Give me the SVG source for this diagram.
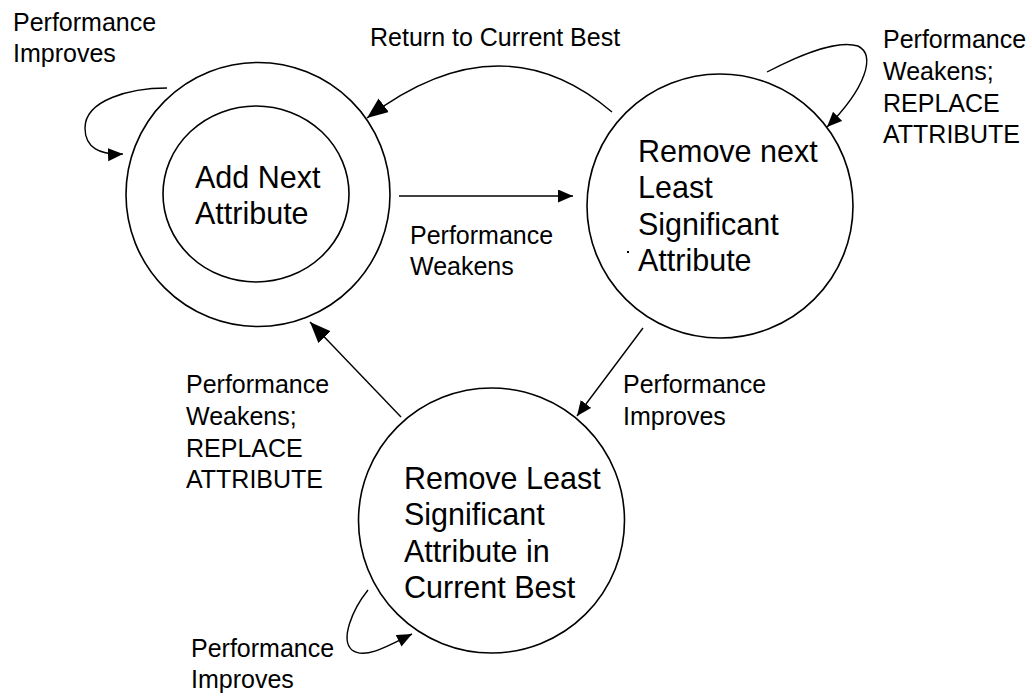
<svg xmlns="http://www.w3.org/2000/svg" width="1032" height="696" viewBox="0 0 1032 696">
<style>
.node{fill:none;stroke:#000;stroke-width:1.6}
.nt{font-family:"Liberation Sans",Arial,sans-serif;font-size:30.5px;fill:#000}
.lbl{font-family:"Liberation Sans",Arial,sans-serif;font-size:25px;fill:#000}
.edge{fill:none;stroke:#000;stroke-width:1.4}
</style>
<defs>
<marker id="ah" markerUnits="userSpaceOnUse" markerWidth="16" markerHeight="14" refX="15" refY="6.5" orient="auto">
<path d="M0,0 L15,6.5 L0,13 z" fill="#000"/>
</marker>
<marker id="ahL" markerUnits="userSpaceOnUse" markerWidth="22" markerHeight="18" refX="21" refY="8.5" orient="auto">
<path d="M0,0 L21,8.5 L0,17 z" fill="#000"/>
</marker>
</defs>
<rect width="1032" height="696" fill="#fff"/>
<g id="connectors">
<path class="edge" d="M167,88 C130,88 85,100 85,128 C85,148 100,155 123,154" marker-end="url(#ah)"/>
<path class="edge" d="M612,112 Q500,17 367,118" marker-end="url(#ahL)"/>
<path class="edge" d="M399,196 L573,196" marker-end="url(#ah)"/>
<path class="edge" d="M767,72 C805,52 840,40 858,46 C876,55 866,88 827,127" marker-end="url(#ah)"/>
<path class="edge" d="M643,328 L577,416" marker-end="url(#ah)"/>
<path class="edge" d="M401,417 L310,322" marker-end="url(#ahL)"/>
<path class="edge" d="M368,590 C352,610 340,640 352,650 C365,660 390,645 412,634" marker-end="url(#ah)"/>
</g>
<g id="labels">
<text class="lbl" x="13" y="31">Performance</text>
<text class="lbl" x="13" y="62">Improves</text>
<text class="lbl" x="370" y="46">Return to Current Best</text>
<text class="lbl" x="883" y="48">Performance</text>
<text class="lbl" x="883" y="80">Weakens;</text>
<text class="lbl" x="883" y="112">REPLACE</text>
<text class="lbl" x="883" y="143">ATTRIBUTE</text>
<text class="lbl" x="410" y="244">Performance</text>
<text class="lbl" x="410" y="275">Weakens</text>
<text class="lbl" x="186" y="393">Performance</text>
<text class="lbl" x="186" y="425">Weakens;</text>
<text class="lbl" x="186" y="457">REPLACE</text>
<text class="lbl" x="186" y="488">ATTRIBUTE</text>
<text class="lbl" x="623" y="393">Performance</text>
<text class="lbl" x="623" y="425">Improves</text>
<text class="lbl" x="191" y="657">Performance</text>
<text class="lbl" x="191" y="688">Improves</text>
</g>
<g id="node-add">
<circle class="node" cx="258" cy="194.5" r="132"/>
<ellipse class="node" cx="256" cy="194" rx="93" ry="88"/>
<text class="nt" x="195" y="188">Add Next</text>
<text class="nt" x="195" y="224">Attribute</text>
</g>
<g id="node-remove-next">
<ellipse class="node" cx="720" cy="206" rx="133" ry="132"/>
<text class="nt" x="638" y="162">Remove next</text>
<text class="nt" x="638" y="198">Least</text>
<text class="nt" x="638" y="235">Significant</text>
<text class="nt" x="638" y="271">Attribute</text>
<rect x="627" y="251" width="2" height="2" fill="#000"/>
</g>
<g id="node-remove-least">
<ellipse class="node" cx="491.5" cy="520.5" rx="133" ry="132.5"/>
<text class="nt" x="404" y="489">Remove Least</text>
<text class="nt" x="404" y="525">Significant</text>
<text class="nt" x="404" y="562">Attribute in</text>
<text class="nt" x="404" y="598">Current Best</text>
</g>
</svg>
